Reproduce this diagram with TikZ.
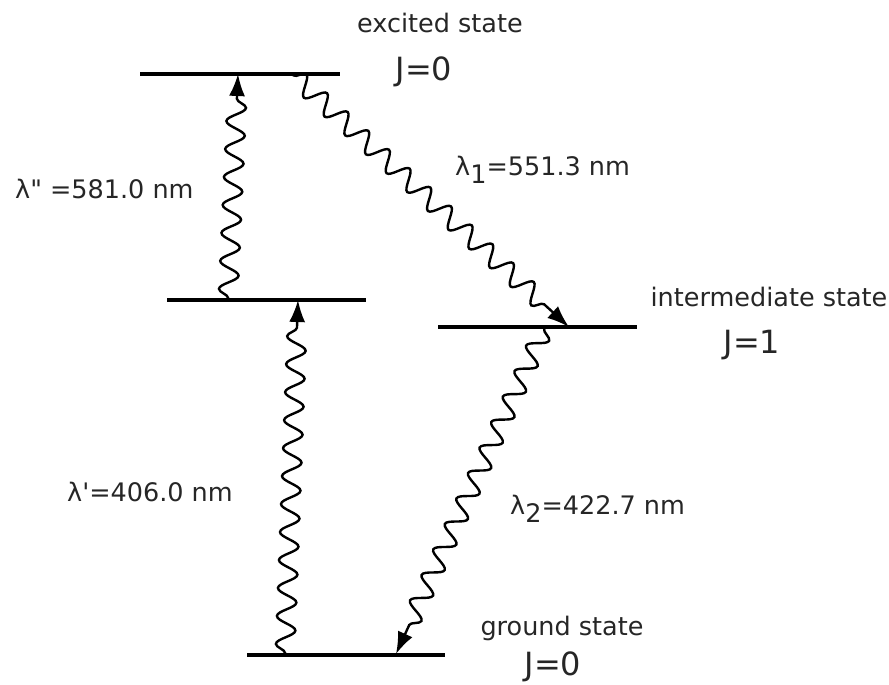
\documentclass[tikz,border=0pt]{standalone}
\usepackage{fontspec}
\newfontfamily\lab{DejaVu Sans}
\usetikzlibrary{decorations.pathmorphing,arrows.meta}
\tikzset{
  level/.style={line width=3.2pt},
  photon/.style={line width=2.4pt,-{Latex[length=22pt,width=16pt]},
    decorate,decoration={snake,amplitude=9.5pt,segment length=28pt,pre length=2pt,post length=20pt}},
  txt/.style={inner sep=0pt,text=black!85,font=\lab\fontsize{25.5}{28}\selectfont},
  jtxt/.style={inner sep=0pt,text=black!85,font=\lab\fontsize{32}{34}\selectfont},
}
\newcommand{\sbs}[1]{\raisebox{-8pt}{#1}}
\begin{document}
\begin{tikzpicture}[x=1pt,y=-1pt]
\useasboundingbox (0,0) rectangle (889,685);
% levels
\coordinate (eL) at (140,74);  \coordinate (eR) at (340,74);
\coordinate (vL) at (167,300); \coordinate (vR) at (366,300);
\coordinate (iL) at (438,327); \coordinate (iR) at (637,327);
\coordinate (gL) at (247,655); \coordinate (gR) at (445,655);
\draw[level] (eL) -- (eR);
\draw[level] (vL) -- (vR);
\draw[level] (iL) -- (iR);
\draw[level] (gL) -- (gR);
% transition end points
\coordinate (a1) at (228,300); \coordinate (a2) at (238,74);
\coordinate (b1) at (285,655); \coordinate (b2) at (298,300);
\coordinate (c1) at (292,74);  \coordinate (c2) at (569,327);
\coordinate (d1) at (545,327); \coordinate (d2) at (396,654);
\draw[photon] (a1) -- (a2);
\draw[photon] (b1) -- (b2);
\draw[photon] (c1) -- (c2);
\draw[photon] (d1) -- (d2);
% labels
\node[txt] (tex) at (440,23) {excited state};
\node[jtxt] (jex) at (424,72) {J=0};
\node[txt,anchor=west] (l3) at (15,189) {λ" =581.0 nm};
\node[txt,anchor=west] (l1) at (455,170) {λ\sbs{1}=551.3 nm};
\node[txt] (tint) at (769,297) {intermediate state};
\node[jtxt] (jint) at (752,345) {J=1};
\node[txt,anchor=west] (l4) at (67,492) {λ'=406.0 nm};
\node[txt,anchor=west] (l2) at (510,509) {λ\sbs{2}=422.7 nm};
\node[txt] (tgr) at (562,628) {ground state};
\node[jtxt] (jgr) at (553,667) {J=0};
\end{tikzpicture}
\end{document}
